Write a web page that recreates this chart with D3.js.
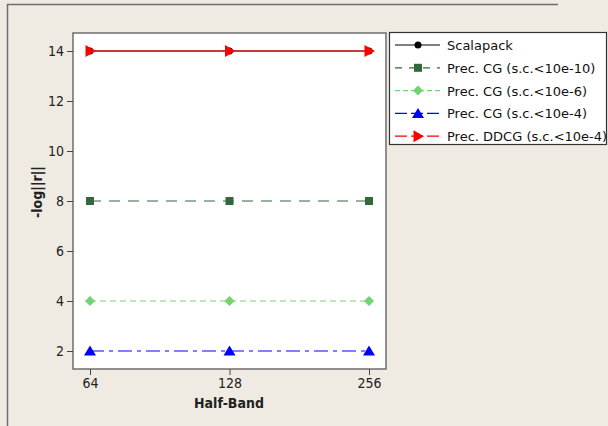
<!DOCTYPE html>
<html>
<head>
<meta charset="utf-8">
<script src="https://cdn.jsdelivr.net/npm/d3@7/dist/d3.min.js"></script>
<style>
  html, body { margin: 0; padding: 0; background: #f0ebe2; }
  svg { display: block; }
  text { font-family: Tahoma, "DejaVu Sans", Verdana, sans-serif; }
</style>
</head>
<body>
<script>
// Half-band sizes on the x axis
const halfBands = [64, 128, 256];
// -log||r|| residuals per solver
const scalapack = [14, 14, 14];
const cg1e10 = [8, 8, 8];
const cg1e6 = [4, 4, 4];
const cg1e4 = [2, 2, 2];
const ddcg1e4 = [14, 14, 14];
const yTicks = [2, 4, 6, 8, 10, 12, 14];
const seriesNames = [
  "Scalapack",
  "Prec. CG (s.c.<10e-10)",
  "Prec. CG (s.c.<10e-6)",
  "Prec. CG (s.c.<10e-4)",
  "Prec. DDCG (s.c.<10e-4)"
];

const W = 608, H = 426;
const box = { left: 73, top: 33, right: 386, bottom: 369 };
const tickFont = "'DejaVu Sans Condensed', 'DejaVu Sans', sans-serif";

const svg = d3.select("body").append("svg").attr("width", W).attr("height", H);

// outer frame
svg.append("rect").attr("x", 0).attr("y", 0).attr("width", W).attr("height", H).attr("fill", "#f0ebe2");
svg.append("path").attr("d", `M7.5,${H} V4.5 H558`).attr("fill", "none").attr("stroke", "#6e6e6e").attr("stroke-width", 1.5);

const x = d3.scaleLog().base(2).domain([64, 256]).range([90, 369]);
const y = d3.scaleLinear().domain([1.28, 14.72]).range([box.bottom, box.top]);

// plot area
svg.append("rect")
  .attr("x", box.left).attr("y", box.top)
  .attr("width", box.right - box.left).attr("height", box.bottom - box.top)
  .attr("fill", "#ffffff").attr("stroke", "#6e6e6e").attr("stroke-width", 1.5);

// axes
const yAxis = svg.append("g").attr("transform", `translate(${box.left},0)`)
  .call(d3.axisLeft(y).tickValues(yTicks).tickSize(6).tickPadding(3).tickFormat(d3.format("d")));
yAxis.select(".domain").remove();
yAxis.selectAll("line").attr("stroke", "#444");
yAxis.selectAll("text").attr("font-size", 14).attr("fill", "#222").style("font-family", tickFont);

const xAxis = svg.append("g").attr("transform", `translate(0,${box.bottom})`)
  .call(d3.axisBottom(x).tickValues(halfBands).tickSize(6).tickPadding(3).tickFormat(d3.format("d")));
xAxis.select(".domain").remove();
xAxis.selectAll("line").attr("stroke", "#444");
xAxis.selectAll("text").attr("font-size", 14).attr("fill", "#222").style("font-family", tickFont);

svg.append("text").attr("x", 229).attr("y", 408).attr("text-anchor", "middle")
  .attr("font-size", 14).attr("font-weight", "bold").attr("fill", "#222")
  .style("font-family", tickFont).text("Half-Band");
svg.append("text").attr("transform", "translate(42,192) rotate(-90)").attr("text-anchor", "middle")
  .attr("font-size", 14).attr("font-weight", "bold").attr("fill", "#222")
  .style("font-family", tickFont).text("-log||r||");

const series = [
  { name: seriesNames[0], values: scalapack, color: "#000000", dash: null, shape: "circle" },
  { name: seriesNames[1], values: cg1e10, color: "#33693a", dash: "11,8", shape: "square" },
  { name: seriesNames[2], values: cg1e6, color: "#72d46e", dash: "6,4", shape: "diamond" },
  { name: seriesNames[3], values: cg1e4, color: "#0000ff", dash: "14,5,4,5", shape: "triangle" },
  { name: seriesNames[4], values: ddcg1e4, color: "#ff0000", dash: null, shape: "right" }
];

function marker(g, shape, color, cx, cy) {
  if (shape === "circle") {
    g.append("circle").attr("cx", cx).attr("cy", cy).attr("r", 3.5).attr("fill", color);
  } else if (shape === "square") {
    g.append("rect").attr("x", cx - 4).attr("y", cy - 4).attr("width", 8).attr("height", 8).attr("fill", color);
  } else if (shape === "diamond") {
    g.append("path").attr("d", `M${cx},${cy - 5}L${cx + 5},${cy}L${cx},${cy + 5}L${cx - 5},${cy}Z`).attr("fill", color);
  } else if (shape === "triangle") {
    g.append("path").attr("d", `M${cx},${cy - 5.5}L${cx + 6},${cy + 4.5}L${cx - 6},${cy + 4.5}Z`).attr("fill", color);
  } else if (shape === "right") {
    g.append("path").attr("d", `M${cx + 6},${cy}L${cx - 4.5},${cy - 6}L${cx - 4.5},${cy + 6}Z`).attr("fill", color);
  }
}

const line = d3.line().x((d, i) => x(halfBands[i])).y(d => y(d));

// Scalapack drawn first so the DDCG line covers it
series.forEach(s => {
  const g = svg.append("g");
  g.append("path").attr("d", line(s.values)).attr("fill", "none")
    .attr("stroke", s.color).attr("stroke-width", 1.2)
    .attr("stroke-dasharray", s.dash);
  s.values.forEach((v, i) => marker(g, s.shape, s.color, x(halfBands[i]), y(v)));
});

// legend
const lg = svg.append("g");
lg.append("rect").attr("x", 389.5).attr("y", 32.5).attr("width", 217).attr("height", 112)
  .attr("fill", "#ffffff").attr("stroke", "#333").attr("stroke-width", 1.2);
const legendDash = [null, "7,7", "5,3", "12,4", "12,4"];
series.forEach((s, i) => {
  const ly = 45 + i * 22.8;
  lg.append("line").attr("x1", 395).attr("x2", 440).attr("y1", ly).attr("y2", ly)
    .attr("stroke", s.color).attr("stroke-width", 1.2).attr("stroke-dasharray", legendDash[i]);
  marker(lg, s.shape, s.color, 418, ly);
  lg.append("text").attr("x", 447).attr("y", ly + 5).attr("font-size", 13).attr("fill", "#111").text(s.name);
});
</script>
</body>
</html>
